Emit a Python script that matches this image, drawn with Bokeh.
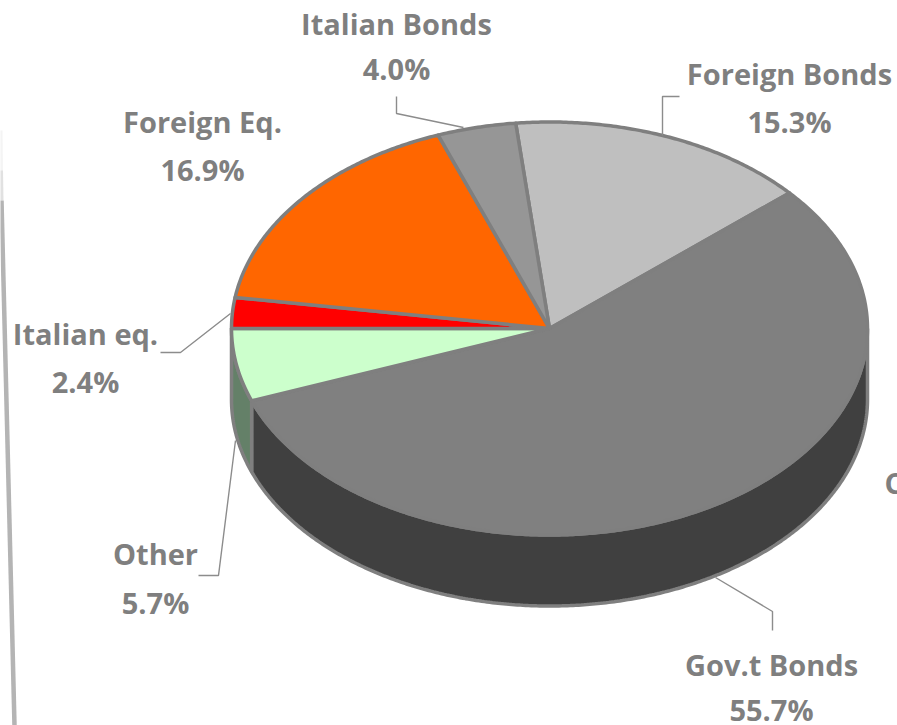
import numpy as np
from bokeh.core.properties import value
from bokeh.embed import file_html
from bokeh.models import ColumnDataSource, Range1d
from bokeh.plotting import figure
from bokeh.resources import INLINE

# Portfolio allocation, in drawing order round the pie (clockwise)
categories = ["Foreign Bonds", "Gov.t Bonds", "Other", "Italian eq.", "Foreign Eq.", "Italian Bonds"]
shares = [15.3, 55.7, 5.7, 2.4, 16.9, 4.0]
top_colors = ["#bfbfbf", "#808080", "#ccffcc", "#ff0000", "#ff6600", "#969696"]
wall_colors = ["#404040", "#404040", "#648068", "#800000", "#803300", "#4b4b4b"]

# Pie geometry on the page
CX, CY, RX, RY, DEPTH = 549.0, 328.0, 318.0, 206.5, 71.0
START_ANGLE = -6.1
EDGE = "#7f7f7f"
TEXT = "#7f7f7f"
FONT = value("Open Sans")
FONT_SIZE = "29px"

# Label placement: centre x, name y, value y
label_pos = {
    "Foreign Bonds": (789, 73, 121),
    "Gov.t Bonds": (771, 664, 709),
    "Other": (155, 553, 602),
    "Italian eq.": (85, 333, 381),
    "Foreign Eq.": (202, 121, 169),
    "Italian Bonds": (396, 23, 68),
}
leader_paths = {
    "Foreign Bonds": [(679, 96), (662, 96), (662, 135)],
    "Gov.t Bonds": [(715, 577), (772, 611), (772, 630)],
    "Other": [(198, 575), (218, 575), (235, 440)],
    "Italian eq.": [(160, 352), (180, 352), (230, 313)],
    "Foreign Eq.": [],
    "Italian Bonds": [(396, 96), (396, 113), (463, 127)],
}


def rim(a0, a1, dy=0.0):
    """Points on the ellipse rim between two clockwise angles in degrees."""
    t = np.radians(np.linspace(a0, a1, max(int(abs(a1 - a0) * 2), 2)))
    return CX + RX * np.sin(t), CY - RY * np.cos(t) + dy


p = figure(
    width=897, height=725, output_backend="svg", toolbar_location=None,
    x_range=Range1d(0, 897), y_range=Range1d(725, 0),
    min_border=0, outline_line_color=None, background_fill_color="white",
)
p.axis.visible = False
p.grid.visible = False

# Scan edge down the left of the page: one solid stroke, with a fading stub above it
p.line([0, 0.5], [130, 170], line_color="#b4b4b4", line_width=4, line_alpha=0.15)
p.line([0.5, 1], [170, 200], line_color="#b4b4b4", line_width=4, line_alpha=0.4)
p.line([1, 14], [200, 725], line_color="#b4b4b4", line_width=4.5, line_join="round")

angles = START_ANGLE + np.concatenate([[0], np.cumsum(shares)]) * 3.6

# Visible side walls: only the front half of the rim, from 90 to 270 degrees
for i, color in enumerate(wall_colors):
    a0, a1 = max(angles[i], 90.0), min(angles[i + 1], 270.0)
    if a1 <= a0:
        continue
    x0, y0 = rim(a0, a1)
    x1, y1 = rim(a1, a0, DEPTH)
    p.patch(np.r_[x0, x1], np.r_[y0, y1], fill_color=color, line_color=EDGE, line_width=3.5)

# Top faces of the slices
for i, color in enumerate(top_colors):
    x, y = rim(angles[i], angles[i + 1])
    p.patch(np.r_[CX, x], np.r_[CY, y], fill_color=color, line_color=EDGE, line_width=3.5,
            line_join="round")

# Leader lines
for path in leader_paths.values():
    if path:
        xs, ys = zip(*path)
        p.line(xs, ys, line_color="#8c8c8c", line_width=1.4)

# Category names and their shares
names = ColumnDataSource(dict(
    x=[label_pos[c][0] for c in categories],
    y=[label_pos[c][1] for c in categories],
    t=categories,
))
vals = ColumnDataSource(dict(
    x=[label_pos[c][0] for c in categories],
    y=[label_pos[c][2] for c in categories],
    t=[f"{s:.1f}%" for s in shares],
))
for src in (names, vals):
    p.text("x", "y", text="t", source=src, text_font=FONT, text_font_style="bold",
           text_font_size=FONT_SIZE, text_color=TEXT, text_align="center", text_baseline="middle")

# Clipped label at the right-hand page edge
p.text([884], [482], text=["C"], text_font=FONT, text_font_style="bold",
       text_font_size=FONT_SIZE, text_color=TEXT, text_align="left", text_baseline="middle")

open("out.html", "w").write(file_html(p, INLINE))
